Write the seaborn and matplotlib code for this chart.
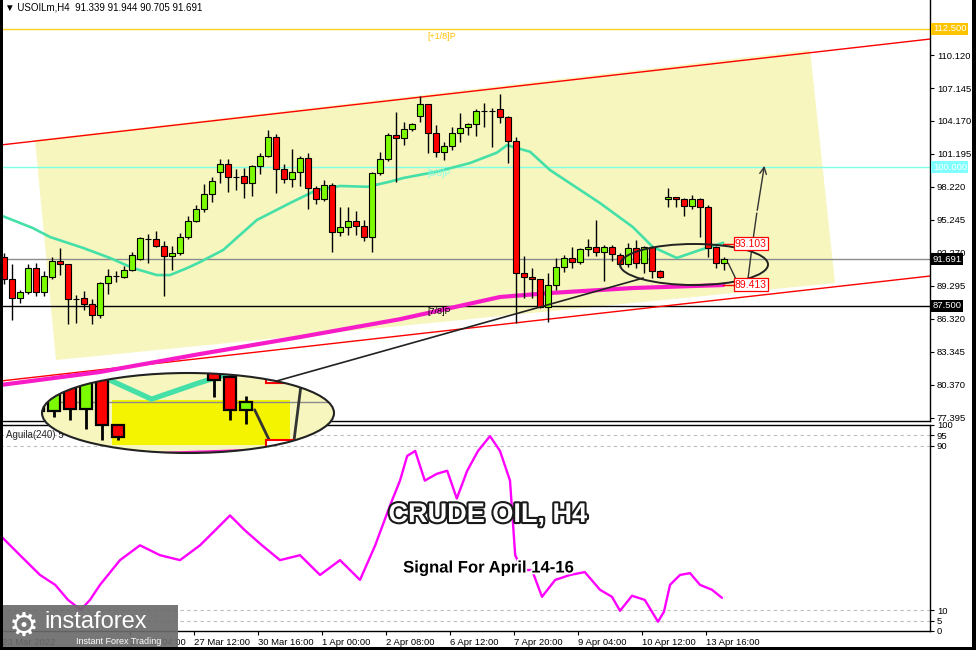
import matplotlib
matplotlib.use("Agg")
import matplotlib.pyplot as plt
import matplotlib.patheffects as pe
from matplotlib.patches import Ellipse, Polygon, Rectangle
import numpy as np
import seaborn as sns

# --- H4 candles ---
opens = [91.93, 89.90, 88.18, 88.72, 90.89, 88.78, 90.13, 91.55, 91.25, 88.15,
         88.18, 87.64, 86.68, 89.53, 90.15, 90.13, 90.73, 91.70, 93.57, 93.50,
         92.90, 92.02, 92.24, 93.74, 95.18, 96.21, 97.56, 99.60, 100.29, 99.15,
         99.20, 98.55, 100.11, 101.04, 102.70, 99.81, 98.91, 99.54, 100.81, 98.10,
         97.11, 98.37, 94.19, 94.58, 95.12, 94.73, 93.74, 99.51, 100.72, 102.91,
         102.61, 103.42, 104.62, 105.67, 103.06, 101.35, 101.91, 103.06, 103.66, 103.90,
         105.08, 105.08, 105.22, 104.50, 102.39, 90.44, 90.08, 89.90, 87.43, 89.38,
         91.03, 91.79, 91.43, 92.60, 92.83, 92.36, 92.83, 92.09, 91.27, 92.74,
         91.39, 92.77, 90.67, 97.11, 97.29, 97.11, 96.53, 97.11, 96.39, 92.83,
         91.339]
highs = [92.30, 91.27, 88.93, 91.27, 91.34, 90.67, 91.93, 92.69, 91.30, 88.48,
         88.84, 88.09, 89.68, 90.80, 90.64, 91.09, 92.33, 93.74, 93.98, 94.28,
         93.35, 92.92, 94.10, 95.60, 96.60, 98.49, 99.15, 100.72, 100.72, 99.81,
         99.90, 100.20, 101.31, 103.36, 102.97, 100.29, 101.62, 101.01, 101.26, 98.31,
         98.85, 98.61, 96.39, 96.39, 96.05, 95.24, 99.60, 101.40, 103.06, 105.01,
         104.10, 103.96, 106.42, 105.70, 103.81, 102.30, 103.66, 104.87, 104.00, 105.22,
         105.77, 105.30, 106.60, 104.62, 102.70, 92.00, 90.89, 89.95, 90.44, 91.79,
         92.09, 92.83, 92.69, 93.50, 95.24, 92.99, 93.00, 92.24, 93.19, 93.44,
         92.90, 92.90, 90.70, 98.10, 97.35, 97.20, 97.50, 97.20, 96.60, 92.90,
         91.944]
lows = [89.50, 86.22, 87.79, 88.57, 88.42, 88.42, 89.90, 90.28, 85.84, 85.98,
        87.13, 85.84, 86.38, 88.54, 89.68, 89.99, 90.64, 91.63, 91.34, 92.84,
        88.42, 90.73, 92.09, 93.50, 95.04, 95.99, 96.89, 98.61, 97.79, 97.95,
        97.25, 97.41, 99.39, 100.95, 97.65, 98.61, 98.25, 98.31, 96.21, 96.66,
        96.98, 92.38, 93.80, 93.89, 93.89, 93.38, 92.38, 99.30, 100.59, 98.70,
        102.00, 103.30, 104.10, 101.26, 100.90, 100.65, 101.56, 102.30, 102.91, 102.82,
        103.66, 101.85, 103.96, 100.35, 85.93, 88.18, 88.18, 87.28, 86.07, 88.93,
        90.58, 90.94, 91.27, 92.00, 92.00, 89.77, 91.57, 91.03, 91.03, 90.89,
        90.49, 89.99, 89.99, 96.39, 96.39, 95.63, 96.21, 93.71, 91.93, 90.89,
        90.705]
closes = [89.89, 88.18, 88.72, 90.89, 88.78, 90.19, 91.55, 91.25, 88.09, 88.15,
          87.64, 86.68, 89.53, 90.19, 90.15, 90.73, 92.09, 93.59, 93.57, 92.90,
          92.02, 92.24, 93.74, 95.18, 96.21, 97.56, 98.76, 100.29, 99.09, 99.15,
          98.55, 100.11, 101.04, 102.70, 99.81, 98.91, 99.54, 100.81, 98.10, 97.11,
          98.37, 94.19, 94.58, 95.12, 94.73, 93.74, 99.51, 100.72, 102.91, 102.61,
          103.42, 103.87, 105.67, 103.06, 101.35, 101.91, 103.06, 103.51, 103.90, 105.10,
          105.08, 105.08, 104.50, 102.39, 90.44, 90.08, 89.90, 87.43, 89.38, 91.03,
          91.79, 91.43, 92.60, 92.83, 92.36, 92.83, 92.18, 91.27, 92.74, 91.39,
          92.77, 90.67, 90.13, 97.34, 97.11, 96.53, 97.11, 96.39, 92.69, 91.34,
          91.691]

# fast moving average (teal), sampled along the line
ma_fast_idx = [-0.5, 3.6, 5.75, 9.9, 13.25, 16.1, 19.1, 20.75, 22.9, 24.5,
               27.4, 31.6, 35.75, 39.1, 42.0, 45.4, 48.25, 49.9, 54.1, 58.25,
               61.6, 62.9, 64.1, 65.75, 68.25, 74.5, 78.6, 81.1, 84.1, 87.0, 89.9]
ma_fast_val = [95.69, 94.52, 93.71, 92.72, 91.82, 90.91, 90.28, 90.28, 90.91, 91.45,
               92.54, 95.24, 96.77, 97.95, 98.31, 98.24, 98.70, 99.03, 99.60, 100.38,
               101.31, 102.00, 101.73, 101.40, 99.75, 96.77, 94.61, 92.81, 91.82, 92.54, 93.19]

# slow moving average (magenta)
ma_slow_idx = [-0.5, 12.0, 24.5, 37.0, 49.5, 62.0, 68.25, 78.6, 89.9]
ma_slow_val = [80.36, 81.54, 83.16, 84.69, 86.30, 88.30, 88.66, 89.11, 89.38]

# Aguila(240) oscillator
ind_idx = [-0.5, 2.0, 4.5, 6.4, 8.0, 9.6, 10.75, 12.0, 14.5, 17.0,
           19.5, 22.0, 24.5, 26.4, 28.25, 30.1, 32.25, 34.5, 37.0, 39.5,
           42.0, 44.5, 46.4, 48.25, 49.5, 50.4, 51.4, 52.6, 54.1, 55.4,
           56.6, 57.9, 59.25, 60.75, 62.0, 63.25, 63.9, 64.75, 66.0, 67.25,
           68.9, 70.75, 72.6, 74.5, 76.0, 77.0, 78.5, 80.1, 81.75, 82.5,
           83.25, 84.5, 85.75, 87.0, 88.5, 89.75]
ind_val = [46.5, 36.8, 27.2, 22.4, 15.1, 10.3, 15.1, 22.4, 34.4, 41.6,
           36.8, 34.4, 41.6, 48.9, 56.1, 48.9, 41.6, 34.4, 36.8, 27.2,
           34.4, 24.8, 41.6, 60.9, 73.0, 85.0, 87.4, 73.0, 76.3, 77.8,
           64.3, 77.8, 87.4, 94.6, 87.4, 73.0, 36.8, 29.6, 29.6, 16.6,
           24.8, 27.2, 28.6, 20.0, 16.6, 9.8, 17.1, 15.1, 4.5, 9.4,
           22.4, 27.2, 28.1, 22.4, 20.0, 16.1]

date_pos = [-0.25, 15.75, 23.75, 31.75, 39.75, 47.75, 55.75, 63.75, 71.75, 79.75, 87.75]
date_labels = ["23 Mar 2022", "24 Mar 04:00", "27 Mar 12:00", "30 Mar 16:00", "1 Apr 00:00",
               "2 Apr 08:00", "6 Apr 12:00", "7 Apr 20:00", "9 Apr 04:00", "10 Apr 12:00",
               "13 Apr 16:00"]

price_ticks = [77.395 + 2.975 * k for k in range(12)]
target_hi, target_lo = 93.103, 89.413

# --- style ---
sns.set_theme(style="white")
plt.rcParams['font.family'] = ['Liberation Sans', 'DejaVu Sans']

CHANNEL = '#F6F6BE'
BULL, BEAR = '#7CFC00', '#FF0000'
TEAL, PINK = '#45E0A8', '#F81CC8'

W, H = 976, 650
fig = plt.figure(figsize=(W / 100, H / 100), dpi=100)
fig.patch.set_facecolor('white')


def rect(x0, y0, x1, y1):
    return [x0 / W, 1 - y1 / H, (x1 - x0) / W, (y1 - y0) / H]


idx = np.arange(len(opens))
o, c = np.array(opens), np.array(closes)
body_bottom = np.minimum(o, c)
body_h = np.abs(c - o)
colors = [BULL if cc >= oo else BEAR for oo, cc in zip(o, c)]

# hand-drawn objects on the chart (index, price)
channel_pts = [(3.875, 102.45), (100.75, 110.57), (103.875, 89.56), (6.5, 82.62)]
upper_line = ([-0.5, 115.75], [102.0, 111.56])
lower_line = ([-0.5, 115.75], [80.72, 90.19])
arrow_path = ([90.54, 91.5, 92.1, 92.9, 93.5, 94.1], [91.34, 89.90, 89.38, 89.38, 92.81, 95.87])


def draw_price(a, lw=1.0, labels=True):
    a.add_patch(Polygon(channel_pts, closed=True, facecolor=CHANNEL, edgecolor='none', zorder=0.5))
    a.axhline(112.5, color='#FFD21F', lw=1, zorder=1)
    a.axhline(100.0, color='#7FFFE5', lw=1, zorder=1)
    a.axhline(87.5, color='black', lw=1, zorder=1)
    a.axhline(closes[-1], color='#8C8C8C', lw=1, zorder=1)
    a.plot(*upper_line, color='red', lw=1 * lw, zorder=1.2)
    a.plot(*lower_line, color='red', lw=1 * lw, zorder=1.2)
    sns.lineplot(x=ma_fast_idx, y=ma_fast_val, ax=a, color=TEAL, lw=1.9 * lw,
                 estimator=None, sort=False, zorder=2)
    sns.lineplot(x=ma_slow_idx, y=ma_slow_val, ax=a, color=PINK, lw=3.0 * lw,
                 estimator=None, sort=False, zorder=2)
    # price targets
    a.plot([89.9, 91.25], [target_hi, target_hi], color='red', lw=1, zorder=2.2)
    a.plot([89.9, 91.25], [target_lo, target_lo], color='red', lw=1, zorder=2.2)
    for val in (target_hi, target_lo):
        if labels:
            a.text(91.35, val, f"{val:.3f}", color='red', fontsize=7.5, va='center', ha='left',
                   zorder=6, bbox=dict(boxstyle='square,pad=0.12', fc='white', ec='red', lw=0.9))
        else:
            a.add_patch(Rectangle((91.25, val - 0.55), 4.25, 1.1, facecolor='white',
                                  edgecolor='red', lw=1.5, zorder=6))
    # candles
    a.vlines(idx, lows, highs, color='black', lw=1.0 * lw, zorder=3)
    a.bar(idx, body_h, bottom=body_bottom, width=0.72, color=colors,
          edgecolor='black', linewidth=0.8 * lw, zorder=3.5)
    # projected path
    a.plot(*arrow_path, color='#333333', lw=1.0 * lw, zorder=4)
    a.annotate('', xy=(95.1, 100.38), xytext=(94.1, 95.87),
               arrowprops=dict(arrowstyle='->', color='#333333', lw=1.0 * lw), zorder=4)


# --- main price panel ---
ax = fig.add_axes(rect(0, 0, 930, 421))
ax.set_facecolor('white')
draw_price(ax)
ax.add_patch(Ellipse((86.25, 91.23), 18.5, 3.7, fill=False, edgecolor='#222222', lw=1.4, zorder=5))
ax.plot([30.0, 79.9], [79.9, 90.01], color='#222222', lw=1.2, zorder=4)
ax.text(52.9, 111.83, '[+1/8]P', color='#FFC000', fontsize=6.5, va='center')
ax.text(52.9, 99.48, '[8/8]P', color='#7FFFE5', fontsize=6.5, va='center')
ax.text(52.9, 86.95, '[7/8]P', color='black', fontsize=6.5, va='center')
ax.set_xlim(-0.5, 115.75)
ax.set_ylim(77.12, 115.08)
ax.yaxis.tick_right()
ax.set_yticks(price_ticks)
ax.set_yticklabels([f"{t:.3f}" for t in price_ticks])
ax.set_xticks([])
ax.tick_params(axis='y', direction='out', length=3, width=0.8, pad=2, labelsize=6.8,
               colors='black', right=True, left=False)
ax.spines['top'].set_visible(False)
for side in ('left', 'right', 'bottom'):
    ax.spines[side].set_color('black')
    ax.spines[side].set_linewidth(1)

tr = ax.get_yaxis_transform()
for val, txt, bg in [(112.5, '112.500', '#FFC400'), (100.0, '100.000', '#7FFFFF'),
                     (closes[-1], '91.691', 'black'), (87.5, '87.500', 'black')]:
    ax.text(1.003, val, txt, transform=tr, color='white', fontsize=6.8, va='center', ha='left',
            zorder=10, clip_on=False,
            bbox=dict(boxstyle='square,pad=0.15', fc=bg, ec='none'))

# --- indicator panel ---
axi = fig.add_axes(rect(0, 425, 930, 631))
axi.set_facecolor('white')
for lvl in (95, 90, 10, 5):
    axi.axhline(lvl, color='#BDBDBD', lw=0.8, ls=(0, (3, 3)), zorder=1)
sns.lineplot(x=ind_idx, y=ind_val, ax=axi, color='#FF00FF', lw=1.7, estimator=None, sort=False, zorder=2)
axi.set_xlim(-0.5, 115.75)
axi.set_ylim(0, 100)
axi.yaxis.tick_right()
axi.set_yticks([0, 5, 10, 90, 95, 100])
axi.set_yticklabels(['0', '5', '10', '90', '95', '100'])
axi.set_xticks(date_pos)
axi.set_xticklabels(date_labels, ha='left')
axi.tick_params(axis='both', direction='out', length=3, width=0.8, pad=2, labelsize=6.8,
                colors='black', right=True, left=False, bottom=True)
for side in ('left', 'right', 'bottom', 'top'):
    axi.spines[side].set_color('black')
    axi.spines[side].set_linewidth(1)
axi.set_xlabel('')
axi.set_ylabel('')
axi.text(0.006, 0.975, 'Aguila(240) 5', transform=axi.transAxes, fontsize=7, va='top', ha='left')

# --- magnified view inside the big ellipse ---
axz = fig.add_axes(rect(42, 373, 334, 453))
axz.set_zorder(5)
axz.patch.set_visible(False)
draw_price(axz, lw=2.0, labels=False)
axz.add_patch(Rectangle((81.6, 89.75), 11.15, 2.03, facecolor='#F4F400', edgecolor='none', zorder=0.8))
axz.set_xlim(77.25, 95.5)
axz.set_ylim(89.39, 93.0)
axz.set_axis_off()
clip = Ellipse((0.5, 0.5), 1, 1, transform=axz.transAxes, facecolor=CHANNEL, edgecolor='none', zorder=0.1)
axz.add_patch(clip)
for art in axz.get_children():
    if art is not clip and art is not axz.patch:
        art.set_clip_path(clip)
axz.add_patch(Ellipse((0.5, 0.5), 1, 1, transform=axz.transAxes, fill=False,
                      edgecolor='#222222', lw=1.5, zorder=20, clip_on=False))

# --- header, captions, logo, frame ---
fig.text(5 / W, 1 - 8 / H, '\u25bc USOILm,H4  91.339 91.944 90.705 91.691', fontsize=7,
         va='center', ha='left', color='black')
fig.text(488 / W, 1 - 515 / H, 'CRUDE OIL, H4', fontsize=19.5, fontweight='bold', color='white',
         ha='center', va='center', zorder=30,
         path_effects=[pe.withStroke(linewidth=3, foreground='#1a1a1a')])
fig.text(488 / W, 1 - 568 / H, 'Signal For April 14-16', fontsize=12, fontweight='bold', color='black',
         ha='center', va='center', zorder=30,
         path_effects=[pe.withStroke(linewidth=2.5, foreground='white')])

fig.add_artist(Rectangle((0, 0), 178 / W, 45 / H, transform=fig.transFigure,
                         facecolor='#6B6B6B', edgecolor='none', alpha=0.92, zorder=40))
fig.text(24 / W, 1 - 626 / H, '\u2699', fontsize=24, color='white', ha='center', va='center',
         family=['DejaVu Sans'], zorder=41)
fig.text(44 / W, 1 - 622 / H, 'instaforex', fontsize=17, color='white', ha='left', va='center', zorder=41)
fig.text(76 / W, 1 - 641 / H, 'Instant Forex Trading', fontsize=6.5, color='white', ha='left',
         va='center', zorder=41)

fig.add_artist(Rectangle((972 / W, 0), 4 / W, 1, transform=fig.transFigure, facecolor='black',
                         edgecolor='none', zorder=50))
fig.add_artist(Rectangle((0, 0), 1, 3 / H, transform=fig.transFigure, facecolor='black',
                         edgecolor='none', zorder=50))
fig.add_artist(Rectangle((0, 0), 2.5 / W, 1, transform=fig.transFigure, facecolor='black',
                         edgecolor='none', zorder=50))

fig.savefig('out.png', dpi=100)
